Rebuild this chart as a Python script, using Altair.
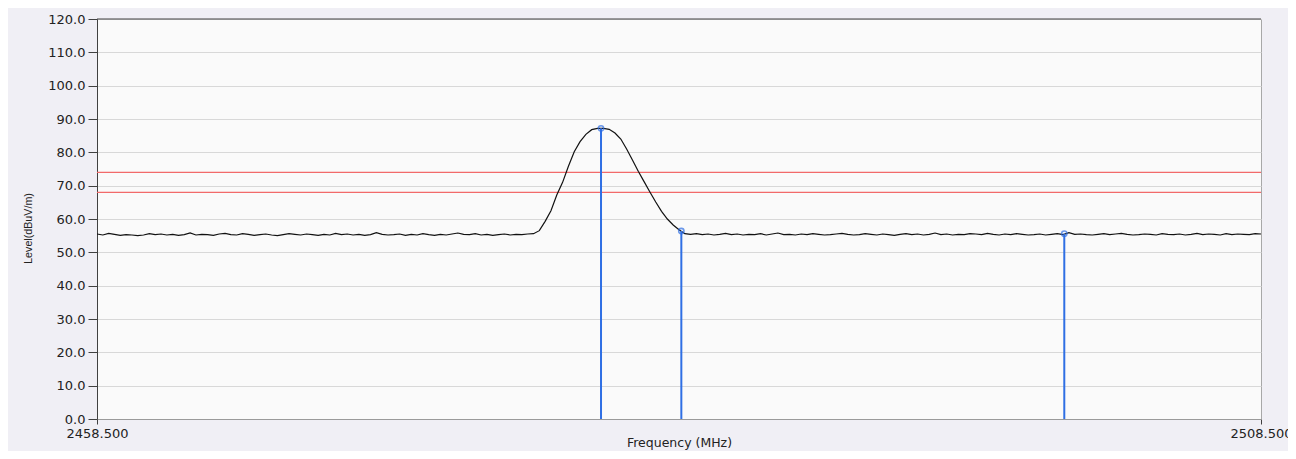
import altair as alt
import pandas as pd

# ---- data ----
level = [
    55.5, 55.2, 55.7, 55.4, 55.1, 55.3, 55.2, 55.0, 55.2, 55.6,
    55.3, 55.5, 55.2, 55.4, 55.1, 55.3, 55.8, 55.2, 55.4, 55.3,
    55.1, 55.5, 55.7, 55.3, 55.2, 55.6, 55.4, 55.1, 55.3, 55.5,
    55.2, 55.0, 55.3, 55.6, 55.4, 55.2, 55.5, 55.3, 55.1, 55.4,
    55.2, 55.7, 55.3, 55.5, 55.2, 55.4, 55.1, 55.3, 55.9, 55.4,
    55.2, 55.3, 55.5, 55.1, 55.4, 55.2, 55.6, 55.3, 55.1, 55.4,
    55.2, 55.5, 55.8, 55.4, 55.3, 55.6, 55.2, 55.4, 55.1, 55.3,
    55.5, 55.2, 55.4, 55.3, 55.5, 55.6,
    56.5, 59.3, 62.5, 67.2, 71.0, 75.8, 80.2, 83.2, 85.4, 86.8,
    87.2, 87.2, 86.9, 85.8, 84.0, 81.0, 77.7, 74.3, 71.2, 68.1,
    65.1, 62.3, 60.0, 58.2, 56.8, 55.6,
    55.4, 55.6, 55.3, 55.5, 55.2, 55.4, 55.7, 55.3, 55.5, 55.2,
    55.4, 55.3, 55.6, 55.2, 55.5, 55.8, 55.3, 55.4, 55.2, 55.5,
    55.3, 55.6, 55.4, 55.2, 55.3, 55.5, 55.7, 55.4, 55.2, 55.3,
    55.6, 55.4, 55.2, 55.5, 55.3, 55.1, 55.4, 55.6, 55.3, 55.5,
    55.2, 55.4, 55.8, 55.3, 55.5, 55.2, 55.4, 55.3, 55.6, 55.5,
    55.3, 55.7, 55.4, 55.2, 55.5, 55.3, 55.6, 55.4, 55.2, 55.3,
    55.5, 55.2, 55.4, 55.6, 55.3, 55.9, 55.4, 55.5, 55.3, 55.2,
    55.4, 55.6, 55.3, 55.5, 55.7, 55.4, 55.2, 55.3, 55.5, 55.4,
    55.2, 55.6, 55.4, 55.3, 55.5, 55.2, 55.4, 55.7, 55.3, 55.5,
    55.4, 55.2, 55.6, 55.3, 55.5, 55.4, 55.3, 55.6, 55.5,
]
freq_start = 2458.5
freq_step = 0.25
freq = [freq_start + freq_step * i for i in range(len(level))]

limit_levels = [74.0, 68.0]

marker_freq = [2480.15, 2483.6, 2500.05]
marker_level = [87.2, 56.4, 55.6]

y_ticks = [0, 10, 20, 30, 40, 50, 60, 70, 80, 90, 100, 110, 120]
x_ticks = [2458.5, 2508.5]

# ---- tables ----
trace_df = pd.DataFrame({"freq": freq, "level": level})
limit_df = pd.DataFrame({"level": limit_levels})
marker_df = pd.DataFrame({"freq": marker_freq, "level": marker_level})
top_df = pd.DataFrame({"level": [120]})

x_scale = alt.Scale(domain=[2458.5, 2508.5], nice=False, zero=False)
y_scale = alt.Scale(domain=[0, 120], nice=False, zero=True)

LABEL_FONT = "DejaVu Sans"

x_axis = alt.Axis(
    values=x_ticks, format=".3f", grid=False,
    tickSize=5, tickColor="#404040", domainColor="#9a9a9a",
    labelFont=LABEL_FONT, labelFontSize=13, labelColor="#222222",
    labelPadding=3, labelFlush=False, labelOverlap=False, labelBound=False,
    title="Frequency (MHz)", titleFont=LABEL_FONT, titleFontSize=12.5,
    titleFontWeight="normal", titleColor="#222222",
    titleY=27, titleBaseline="alphabetic",
)
y_axis = alt.Axis(
    values=y_ticks, format=".1f", grid=True, gridColor="#d8d8d8",
    tickSize=9, tickColor="#404040", domainColor="#404040",
    labelFont=LABEL_FONT, labelFontSize=13, labelColor="#222222",
    labelPadding=3, labelFlush=False, labelOverlap=False,
    title="Level(dBuV/m)", titleFont="Liberation Sans", titleFontSize=10.7,
    titleFontWeight="normal", titleColor="#222222",
    titleX=-69, titleY=209, titleAngle=270,
    titleAlign="center", titleBaseline="middle",
)

X = alt.X("freq:Q", scale=x_scale, axis=x_axis, title="Frequency (MHz)")
Y = alt.Y("level:Q", scale=y_scale, axis=y_axis, title="Level(dBuV/m)")

trace = alt.Chart(trace_df).mark_line(color="#111111", strokeWidth=1.2).encode(
    x=X, y=Y,
)

limits = alt.Chart(limit_df).mark_rule(color="#f26a6a", strokeWidth=1.2).encode(
    y=Y,
)

stems = alt.Chart(marker_df).mark_rule(color="#2f6fe4", strokeWidth=2).encode(
    x=X, y=Y, y2=alt.datum(0),
)

dots = alt.Chart(marker_df).mark_point(
    color="#2f6fe4", filled=False, size=28, strokeWidth=1.6, shape="circle"
).encode(
    x=X, y=Y,
)

top_border = alt.Chart(top_df).mark_rule(color="#404040", strokeWidth=1.2).encode(
    y=Y,
)

chart = (
    alt.layer(limits, trace, stems, dots, top_border)
    .properties(
        width=1164,
        height=400,
        autosize=alt.AutoSizeParams(type="none"),
        padding={"left": 89, "top": 11, "right": 27, "bottom": 32},
        background="#f0eff5",
    )
    .configure_view(fill="#fafafa", stroke="#a8a8a8", strokeWidth=1)
)

chart.save("out.html", embed_options={"renderer": "svg", "actions": False})
